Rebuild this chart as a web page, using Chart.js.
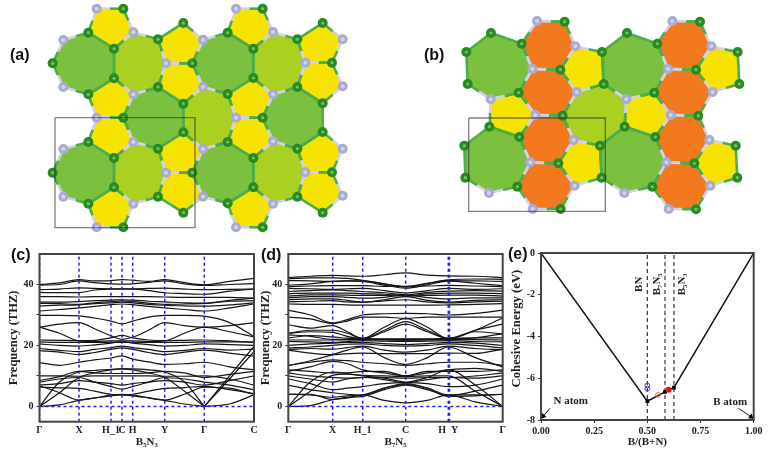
<!DOCTYPE html>
<html>
<head>
<meta charset="utf-8">
<script src="https://cdn.jsdelivr.net/npm/chart.js@4/dist/chart.umd.min.js"></script>
<style>
html, body { margin: 0; padding: 0; background: #fff; width: 771px; height: 454px; overflow: hidden; }
canvas { position: absolute; filter: blur(0.4px); }
.tag { position: absolute; font: bold 16px "Liberation Sans", sans-serif; color: #111; }
</style>
</head>
<body>
<canvas id="cell" style="left:0;top:0" width="771" height="240"></canvas>
<canvas id="bandC" style="left:0;top:240px" width="262" height="214"></canvas>
<canvas id="bandD" style="left:252px;top:240px" width="258" height="214"></canvas>
<canvas id="energy" style="left:508px;top:240px" width="263" height="214"></canvas>
<div class="tag" style="left:10px;top:46px">(a)</div>
<div class="tag" style="left:424px;top:46px">(b)</div>
<div class="tag" style="left:11px;top:246px">(c)</div>
<div class="tag" style="left:261px;top:246px">(d)</div>
<div class="tag" style="left:508px;top:245px">(e)</div>
<script>
// crystal cells at 3x
const yellowA = [
  [290,26,370,26,400,97,342,146,265,98], [550,69,609,119,577,190,498,190,474,118],
  [708,26,788,26,819,96,760,146,683,98], [968,69,1028,118,996,188,916,188,892,118],
  [498,190,577,190,609,261,550,311,474,261], [916,188,996,188,1028,259,968,310,892,261],
  [342,235,400,283,370,353,290,353,265,283], [760,234,819,283,788,353,708,353,683,282],
  [290,353,370,353,400,426,342,474,265,426], [708,353,788,353,819,424,760,474,683,426],
  [550,397,609,447,577,518,498,518,474,446], [968,396,1028,446,996,517,916,517,892,446],
  [498,518,577,518,609,590,550,638,474,590], [916,517,996,517,1028,587,968,638,892,590],
  [342,562,400,611,370,682,290,682,265,611], [760,562,819,611,788,682,708,682,683,610]
];
const greenA = [
  [265,98,342,146,342,235,265,283,190,261,158,190,190,120],
  [683,98,760,146,760,234,683,282,609,261,577,190,609,119],
  [550,311,550,397,474,446,400,426,370,353,400,283,474,261],
  [968,310,968,396,892,446,819,424,788,353,819,283,892,261],
  [265,426,342,474,342,562,265,611,190,590,158,518,190,447],
  [683,426,760,474,760,562,683,610,609,590,577,518,609,447]
];
const limeA = [
  [342,146,400,97,474,118,498,190,474,261,400,283,342,235],
  [760,146,819,96,892,118,916,188,892,261,819,283,760,234],
  [550,311,609,261,683,282,708,353,683,426,609,447,550,397],
  [342,474,400,426,474,446,498,518,474,590,400,611,342,562],
  [760,474,819,424,892,446,916,517,892,590,819,611,760,562]
];
const nitrogenA = [
  290,26, 708,26, 400,97, 819,96, 190,120, 609,119, 1028,118, 498,190, 916,188, 190,261, 609,261, 1028,259,
  400,283, 819,283, 290,353, 708,353, 400,426, 819,424, 190,447, 609,447, 1028,446, 498,518, 916,517,
  190,590, 609,590, 1028,587, 400,611, 819,611, 290,682, 708,682
];
const boxA = [165,353,585,683];

const orangeB = [
  [456,63,539,65,571,139,526,209,442,207,410,131], [862,63,945,65,979,139,933,209,849,207,817,131],
  [442,207,526,209,575,276,533,347,451,345,401,278], [849,207,933,209,983,276,940,347,857,345,808,278],
  [451,345,533,347,566,420,520,490,436,487,403,411], [857,345,940,347,973,420,928,490,844,487,811,411],
  [436,487,520,490,569,557,527,627,443,627,397,560], [844,487,928,490,976,557,933,628,851,627,802,560]
];
const yellowB = [
  [571,139,651,156,656,252,575,276,526,209], [979,139,1058,156,1063,252,983,276,933,209],
  [317,298,401,278,451,345,403,411,313,380], [724,298,808,278,857,345,811,411,719,380],
  [566,420,645,437,650,533,569,557,520,490], [973,420,1052,437,1057,533,976,557,928,490]
];
const greenB = [
  [318,99,410,131,442,207,401,278,317,298,248,252,244,156],
  [726,99,817,131,849,207,808,278,724,298,656,252,651,156],
  [313,380,403,411,436,487,397,560,312,579,241,533,238,437],
  [719,380,811,411,844,487,802,560,718,579,650,533,645,437]
];
const limeB = [[533,347,575,276,656,252,724,298,719,380,645,437,566,420]];
const nitrogenB = [
  456,63, 862,63, 571,139, 979,139, 442,207, 849,207, 317,298, 575,276, 724,298, 983,276, 451,345, 857,345,
  566,420, 973,420, 436,487, 844,487, 312,579, 569,557, 718,579, 976,557, 443,627, 851,627
];
const boxB = [251,354,661,634];

// phonon bands: knots along the k path, values in THz
const knotsC = [0,20,39.5,55,71.5,82.5,93.2,109,125.2,145,164.8,190,214.5];
const ticksC = [0,39.5,71.5,82.5,93.2,125.2,164.8,214.5];
const labelsC = ['Γ','X','H_1','C','H','Y','Γ','C'];
const bandsC = [
  [40,40.5,41.6,41.2,41.3,41.6,41.4,41,41.6,40.6,39.9,41,42],
  [39.8,40,41.2,40.6,40.2,40.1,40.2,40.7,41.2,40.2,39.7,40,40.3],
  [38.3,38.5,38.9,38.7,38.6,38.6,38.6,38.7,38.8,38.5,38.3,38.4,38.5],
  [37.4,37.3,37.3,38.2,38.5,38.5,38.5,38,37.3,37,36.8,37.8,38.5],
  [36,36,35.9,36,36,36,36,36,35.9,35.8,35.8,35.8,35.5],
  [34.2,34.2,34.4,34.7,34.9,35,34.9,34.5,34.3,34,33.9,34.8,35.5],
  [33.8,33.7,33.5,34,34.4,34.6,34.4,33.9,33.5,33.6,33.8,34.5,34.7],
  [33,33.2,33.3,33.7,34,34.2,34,33.5,33.2,33,32.9,33.3,34],
  [31.3,31.8,32.3,32.8,33.4,33.6,33.4,32.8,32.3,31.8,31.3,32.3,33.6],
  [29.9,29.9,29.7,29,28,27.1,28,29.3,29.9,29.9,29.6,27.5,23],
  [26,27,27.5,25.5,23.2,22,22.7,25,27.5,26.5,26,26.5,27.5],
  [26,24,21.5,21.3,21.5,21.5,21.5,21.3,21.5,24,26,24.5,22.8],
  [21.8,21.7,21.6,21.7,22.5,23.3,22.5,21.8,21.6,21.7,21.8,21.5,21],
  [21.2,21,21,21,21,21,21,21,21,21,21.2,21.2,21.1],
  [20.5,20,19.8,20.2,20.8,21.3,20.8,20.3,19.8,20,20.5,20.3,20],
  [19,18.4,18,18.7,19.3,19.8,19.3,18.7,18,18.4,19,18.5,18.8],
  [18.3,17.8,17,17.7,18.7,19.2,18.7,17.7,17,17.8,18.5,17.5,16.5],
  [14.4,13.5,14.5,15.3,15.9,16.6,15.5,14.6,13.8,14,14.5,13,12],
  [0,8,11.3,11.8,12.2,12.3,12.3,12,11.3,8,0,9,18],
  [0,4.5,9.5,11,12,12.3,12,11,9.5,5,0,10,19.7],
  [0,0.5,2,2.7,3.5,3.8,3.5,2.8,2,0.8,0,0.8,3.8],
  [6.8,4.5,2.1,2.8,3.7,4,3.7,2.9,2.1,4,6.3,6,4],
  [6.3,6.1,5.9,5,4,3.8,4,5,5.9,6.2,6.6,5.5,4.2],
  [8,9,9.5,8,6.5,5.7,6.5,8,9.5,9,8,7,5.5],
  [10,10,9.9,10,10,10,10,10,9.9,9.9,10,9,7],
  [8.5,9.8,11.5,11,10.8,10.8,10.8,11,11.5,11,9.5,10.5,11.5],
  [7,7.5,8.5,8,7.5,7,7.5,8,8.5,8,7,8.5,10]
];

const knotsD = [0,22,44.4,59,74.4,96,117.4,139,160,187,214.4];
const ticksD = [0,44.4,74.4,117.4,160,161.2,214.4];
const labelsD = ['Γ','X','H_1','C','H  Y','','Γ'];
const bandsD = [
  [42.3,42.7,43,42.8,42.7,43.2,43.8,43.1,42.8,42.7,42.2],
  [41.9,42.2,42.2,42,41.4,40.2,39.3,40.4,41.5,41.8,41.7],
  [41.3,41.2,41,41.2,41.2,40.2,39.2,40.3,41.3,41.2,41],
  [39.8,40.2,41,41.2,41,39.8,38.8,39.9,41.1,40.4,39.6],
  [39.3,39.5,39.6,39.6,39.6,39.4,39.4,39.5,39.7,39.5,39.3],
  [38.7,38.6,38.4,38.6,38.7,38,37.2,38,38.7,38.4,38.6],
  [37.7,38,38.2,38,37.7,37.3,36.6,37.4,37.8,38,37.8],
  [37,37.2,37.2,37.2,37,36.8,36.3,36.9,37.2,37.2,37],
  [36.2,36.6,36.6,36.5,36.4,36.4,36.2,36.4,36.5,36.5,36.2],
  [35.6,36,36,35.8,35.5,35.8,36.6,35.7,35.3,35.6,35.6],
  [35,35.3,35.3,34.8,34.2,35,36,34.8,34.2,34.8,35],
  [34.3,34.5,34.7,34.3,34.2,34.6,35,34.3,34,34.3,34.5],
  [33.6,33.5,33.5,33.3,33.2,33.2,33.2,33.2,33.3,33.5,33.7],
  [31.6,30,27.4,28.5,30,30.4,30.5,30.4,30,30.5,31.6],
  [29.3,28.7,27.2,28,29.3,29.3,28.9,29.3,29.3,29.3,29.3],
  [26.8,25.7,26.5,24.5,22.3,26,28.8,26,22.3,25,27],
  [24,25,25,24,22.3,25,27.8,25,22.3,24.5,23.8],
  [24,24.5,24.3,23,22.2,24.5,27,24.5,22.2,25,29],
  [23.5,23,22,22,22.2,22.2,22.2,22.2,22.3,22.5,23.9],
  [22.5,23.2,22.8,22.4,22.2,22,22,22,22.2,22.5,22.5],
  [21.8,21.8,21.8,21.8,22,21.8,21.7,21.8,22,21.9,21.8],
  [21.3,21.2,21,21.3,21.6,21.4,21.3,21.4,21.6,21.3,21.2],
  [20,20.5,20.8,21,21,20.6,20.3,20.6,21,20.8,20],
  [19.2,19.5,20,20.4,20.5,20,19.8,20,20.5,20,19.2],
  [18.7,19,18.8,19.3,19.8,18.5,17.8,18.5,19.8,19,18.6],
  [18.5,17.5,17,17.3,17.5,17.3,17.3,17.3,17.5,17.4,18.8],
  [13.4,15,17,18.5,19.5,16,13.8,16,19.5,16,13],
  [13.5,14.5,15.3,15,14.5,14,13.5,14,14.5,14.5,13.5],
  [11.5,13,14.8,14,12,11,10,11,12,12.5,11.5],
  [0,8,11.3,10.8,10,9.3,8,9.5,12,7,0],
  [0,5,10.2,10.6,10.2,10,9.8,10,10,5,0],
  [0,0.3,2.2,2.8,3.8,2,1.2,2,3.8,1.5,0],
  [4,4,2.3,3,3.3,6,7.5,6,3.3,3.5,4],
  [4,3.8,3,3.5,3.8,6,7.2,6,3.8,3.8,4],
  [7,5.5,4.5,4,3.6,5.5,7,5.5,3.6,5,7],
  [9,7.5,5.5,6,6.5,7.5,7.8,7.5,6.5,7,9],
  [10,9,8,9,9.5,8.8,7.8,8.8,9.5,9.3,10],
  [11,10,9.5,9.3,9.5,9.5,9.3,9.5,9.5,10,11],
  [12,11.5,11,11,11.5,11.5,10,11.5,11.5,11.5,12]
];

// cohesive energy panel
const hullX = [0,0.5,0.583,0.625,1];
const hullY = [0,-7.1,-6.65,-6.45,0];
const compoundX = [0.5,0.583,0.625];
const compoundY = [-7.1,-6.65,-6.45];
const compoundNames = ['BN','B₇N₅','B₅N₃'];
const blueX = [0.5,0.5];
const blueY = [-6.35,-6.5];
const redOpen = [0.55,-6.8];
const redFull = [0.6,-6.55];
const atomNames = ['N atom','B atom'];
const energyTicks = [0,-2,-4,-6,-8];
const ratioTicks = [0,0.25,0.5,0.75,1];

const serif = 'Liberation Serif';
Chart.defaults.animation = false;
Chart.defaults.responsive = false;
Chart.defaults.plugins.legend.display = false;
Chart.defaults.plugins.tooltip.enabled = false;
Chart.defaults.elements.point.radius = 0;

const framePlugin = {
  id: 'frame',
  afterDatasetsDraw(chart) {
    const a = chart.chartArea, c = chart.ctx;
    c.save();
    c.strokeStyle = '#444';
    c.lineWidth = 2;
    c.strokeRect(a.left, a.top, a.right - a.left, a.bottom - a.top);
    c.restore();
  }
};

function ringSet(rings, color) {
  return rings.map(r => {
    const pts = [];
    for (let i = 0; i < r.length; i += 2) pts.push({x: r[i] / 3, y: r[i + 1] / 3});
    pts.push(pts[0]);
    return {data: pts, showLine: true, fill: 'shape', backgroundColor: color, borderWidth: 0, order: 5};
  });
}

function boxSet(b) {
  const pts = [[b[0],b[1]],[b[2],b[1]],[b[2],b[3]],[b[0],b[3]],[b[0],b[1]]].map(p => ({x: p[0] / 3, y: p[1] / 3}));
  return {data: pts, showLine: true, borderColor: 'rgba(50,50,50,0.6)', borderWidth: 1.4, order: 0};
}

// every bond is half green, half lavender when it joins the two atom kinds
function structure(rings, nitrogen, offset) {
  const isN = {};
  for (let i = 0; i < nitrogen.length; i += 2) isN[nitrogen[i] + ',' + nitrogen[i + 1]] = true;
  const seen = {}, atoms = [], bonds = [];
  rings.forEach(r => {
    const n = r.length / 2;
    for (let i = 0; i < n; i++) {
      const x = r[2 * i], y = r[2 * i + 1];
      const x2 = r[(2 * i + 2) % r.length], y2 = r[(2 * i + 3) % r.length];
      const key = x + ',' + y;
      if (!seen[key]) { seen[key] = true; atoms.push({x: x / 3 + offset, y: y / 3, n: !!isN[key]}); }
      const mx = (x + x2) / 2, my = (y + y2) / 2;
      bonds.push({a: {x: x / 3 + offset, y: y / 3}, b: {x: mx / 3 + offset, y: my / 3}, n: !!isN[key]});
      bonds.push({a: {x: x2 / 3 + offset, y: y2 / 3}, b: {x: mx / 3 + offset, y: my / 3}, n: !!isN[x2 + ',' + y2]});
    }
  });
  const sets = bonds.map(b => ({
    data: [b.a, b.b], showLine: true, borderWidth: 2.6,
    borderColor: b.n ? '#cfd2ea' : '#4dad4a', order: 3
  }));
  const g = atoms.filter(a => !a.n), l = atoms.filter(a => a.n);
  sets.push({data: g, pointRadius: 5, pointBackgroundColor: '#2a8a22', pointBorderWidth: 0, order: 2});
  sets.push({data: g, pointRadius: 1.6, pointBackgroundColor: '#6cc45c', pointBorderWidth: 0, order: 1});
  sets.push({data: l, pointRadius: 5, pointBackgroundColor: '#a8acd2', pointBorderWidth: 0, order: 2});
  sets.push({data: l, pointRadius: 2, pointBackgroundColor: '#d0d3ec', pointBorderWidth: 0, order: 1});
  return sets;
}

function shift(sets, offset) {
  sets.forEach(s => { s.data = s.data.map(p => ({x: p.x + offset, y: p.y})); });
  return sets;
}

const cellSets = [
  ...ringSet(yellowA, '#f7e300'), ...ringSet(greenA, '#7cc03f'), ...ringSet(limeA, '#aad021'),
  ...structure([...yellowA, ...greenA, ...limeA], nitrogenA, 0),
  boxSet(boxA),
  ...shift([...ringSet(orangeB, '#f2791e'), ...ringSet(yellowB, '#f7e300'), ...ringSet(greenB, '#7cc03f'), ...ringSet(limeB, '#aad021')], 385),
  ...structure([...orangeB, ...yellowB, ...greenB, ...limeB], nitrogenB, 385),
  ...shift([boxSet(boxB)], 385)
];

new Chart(document.getElementById('cell'), {
  type: 'scatter',
  data: {datasets: cellSets},
  options: {
    layout: {padding: 0, autoPadding: false},
    scales: {
      x: {display: false, min: 0, max: 771},
      y: {display: false, min: 0, max: 240, reverse: true}
    }
  }
});

// acoustic bands touch zero at an inner Γ: cut them there so the V stays sharp
function bandPieces(band, knots) {
  const pieces = [];
  let cur = [];
  band.forEach((v, i) => {
    cur.push({x: knots[i], y: v});
    if (v === 0 && i > 0 && i < band.length - 1) {
      pieces.push(cur);
      cur = [{x: knots[i], y: v}];
    }
  });
  pieces.push(cur);
  return pieces;
}

function bandChart(id, knots, bands, ticks, labels, name, left, right, pad) {
  const sets = [];
  bands.forEach(b => bandPieces(b, knots).forEach(p => sets.push({
    data: p, borderColor: '#151515', borderWidth: 1.2, cubicInterpolationMode: 'monotone', order: 3
  })));
  ticks.forEach(t => sets.push({
    data: [{x: t, y: -5}, {x: t, y: 50}],
    borderColor: '#1c1cff', borderWidth: 1.5, borderDash: [3, 3], order: 1
  }));
  sets.push({
    data: [{x: 0, y: 0}, {x: ticks[ticks.length - 1], y: 0}],
    borderColor: '#1c1cff', borderWidth: 1.5, borderDash: [3, 3], order: 1
  });
  new Chart(document.getElementById(id), {
    type: 'line',
    data: {datasets: sets},
    options: {
      layout: {padding: {top: 14, right: right, bottom: 0, left: 0}, autoPadding: false},
      scales: {
        x: {
          type: 'linear', min: 0, max: ticks[ticks.length - 1],
          afterBuildTicks: s => { s.ticks = ticks.map(v => ({value: v})); },
          afterFit: s => { s.height = 32.3; },
          grid: {drawOnChartArea: false, drawTicks: false},
          border: {display: false},
          ticks: {
            autoSkip: false, maxRotation: 0, padding: 3, color: '#222',
            font: {family: serif, weight: 'bold', size: 10},
            callback: (v, i) => labels[i]
          },
          title: {display: true, text: name, color: '#222', padding: {top: 0, bottom: 5},
            font: {family: serif, weight: 'bold', size: 11}}
        },
        y: {
          min: -5, max: 50,
          afterBuildTicks: s => { s.ticks = [0, 10, 20, 30, 40].map(v => ({value: v})); },
          afterFit: s => { s.width = left; },
          grid: {drawOnChartArea: false, tickColor: '#333', tickLength: 3},
          border: {display: false},
          ticks: {
            padding: 3, color: '#222', font: {family: serif, weight: 'bold', size: 10},
            callback: v => (v % 20 === 0 ? v : '')
          },
          title: {display: true, text: 'Frequency (THZ)', color: '#222', padding: {top: pad, bottom: 0},
            font: {family: serif, weight: 'bold', size: 12.5}}
        }
      }
    },
    plugins: [framePlugin]
  });
}

bandChart('bandC', knotsC, bandsC, ticksC, labelsC, 'B₅N₃', 39.5, 8, 6);
bandChart('bandD', knotsD, bandsD, ticksD, labelsD, 'B₇N₅', 36.3, 7.3, 6);

// names of compounds and atoms, placed by scale values
const compoundShift = [-8, -8, 8];
const energyText = {
  id: 'energyText',
  afterDatasetsDraw(chart) {
    const c = chart.ctx, xs = chart.scales.x, ys = chart.scales.y;
    c.save();
    c.fillStyle = '#222';
    c.font = 'bold 11px "' + serif + '"';
    c.textAlign = 'center';
    c.textBaseline = 'middle';
    compoundNames.forEach((t, i) => {
      c.save();
      c.translate(xs.getPixelForValue(compoundX[i]) + compoundShift[i], ys.getPixelForValue(-1.5));
      c.rotate(-Math.PI / 2);
      c.fillText(t, 0, 0);
      c.restore();
    });
    c.fillText(atomNames[0], xs.getPixelForValue(0.14), ys.getPixelForValue(-7.12));
    c.fillText(atomNames[1], xs.getPixelForValue(0.889), ys.getPixelForValue(-7.14));
    c.restore();
  }
};

const energySets = [
  {data: hullX.map((v, i) => ({x: v, y: hullY[i]})), borderColor: '#151515', borderWidth: 1.5, order: 4},
  ...compoundX.map(v => ({
    data: [{x: v, y: -8}, {x: v, y: 0}],
    borderColor: '#333', borderWidth: 1.2, borderDash: [4, 3], order: 5
  })),
  {data: compoundX.map((v, i) => ({x: v, y: compoundY[i]})), showLine: false, pointStyle: 'rect',
    pointRadius: 2.6, pointBackgroundColor: '#000', pointBorderWidth: 0, order: 3},
  {data: blueX.map((v, i) => ({x: v, y: blueY[i]})), showLine: false, pointRadius: 2.4,
    pointBackgroundColor: 'transparent', pointBorderColor: '#3a3ae8', pointBorderWidth: 1, order: 2},
  {data: [{x: redOpen[0], y: redOpen[1]}], showLine: false, pointRadius: 2.4,
    pointBackgroundColor: 'transparent', pointBorderColor: '#ee6a6a', pointBorderWidth: 1, order: 2},
  {data: [{x: redFull[0], y: redFull[1]}], showLine: false, pointRadius: 3,
    pointBackgroundColor: '#f01010', pointBorderWidth: 0, order: 1},
  {data: [{x: 0.042, y: -7.44}, {x: 0.01, y: -7.82}], borderColor: '#151515', borderWidth: 1, order: 2},
  {data: [{x: 0.928, y: -7.44}, {x: 0.988, y: -7.85}], borderColor: '#151515', borderWidth: 1, order: 2},
  {data: [{x: 0.01, y: -7.82}], showLine: false, pointStyle: 'triangle', pointRadius: 3.5, pointRotation: 222,
    pointBackgroundColor: '#000', pointBorderWidth: 0, order: 1, clip: false},
  {data: [{x: 0.988, y: -7.85}], showLine: false, pointStyle: 'triangle', pointRadius: 3.5, pointRotation: 125,
    pointBackgroundColor: '#000', pointBorderWidth: 0, order: 1, clip: false}
];

new Chart(document.getElementById('energy'), {
  type: 'line',
  data: {datasets: energySets},
  options: {
    layout: {padding: {top: 13, right: 17.3, bottom: 0, left: 0}, autoPadding: false},
    scales: {
      x: {
        type: 'linear', min: 0, max: 1,
        afterBuildTicks: s => { s.ticks = ratioTicks.map(v => ({value: v})); },
        afterFit: s => { s.height = 34; },
        grid: {drawOnChartArea: false, tickColor: '#333', tickLength: 3},
        border: {display: false},
        ticks: {
          maxRotation: 0, padding: 2, color: '#222', font: {family: serif, weight: 'bold', size: 10},
          callback: v => v.toFixed(2)
        },
        title: {display: true, text: 'B/(B+N)', color: '#222', padding: {top: 0, bottom: 5},
          font: {family: serif, weight: 'bold', size: 11}}
      },
      y: {
        min: -8, max: 0,
        afterBuildTicks: s => { s.ticks = energyTicks.map(v => ({value: v})); },
        afterFit: s => { s.width = 33; },
        grid: {drawOnChartArea: false, tickColor: '#333', tickLength: 3},
        border: {display: false},
        ticks: {padding: 3, color: '#222', font: {family: serif, weight: 'bold', size: 10}},
        title: {display: true, text: '     Cohesive Energy (eV)', color: '#222', padding: {top: 1, bottom: 0},
          font: {family: serif, weight: 'bold', size: 12.7}}
      }
    }
  },
  plugins: [framePlugin, energyText]
});
</script>
</body>
</html>
